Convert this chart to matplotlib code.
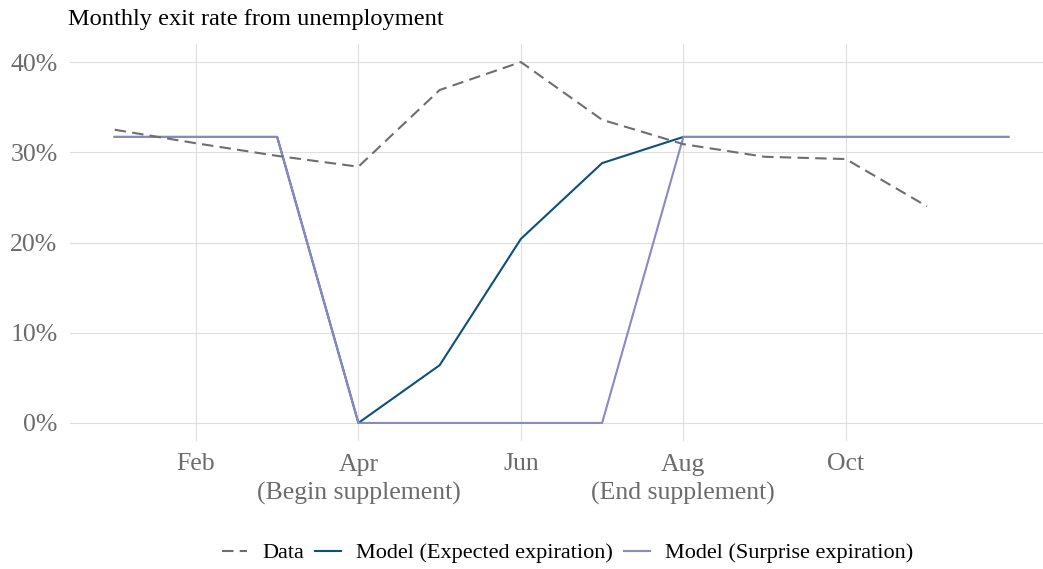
import numpy as np
import matplotlib
matplotlib.use("Agg")
import matplotlib.pyplot as plt

# Monthly series (percent), Jan..Dec
months = np.arange(1, 13)
data_rate = [32.5, 31.0, 29.6, 28.4, 36.9, 40.0, 33.6, 30.9, 29.5, 29.25, 24.0]
expected_rate = [31.7, 31.7, 31.7, 0.0, 6.4, 20.4, 28.8, 31.7, 31.7, 31.7, 31.7, 31.7]
surprise_rate = [31.7, 31.7, 31.7, 0.0, 0.0, 0.0, 0.0, 31.7, 31.7, 31.7, 31.7, 31.7]

tick_months = [2, 4, 6, 8, 10]
tick_labels = ["Feb", "Apr\n(Begin supplement)", "Jun", "Aug\n(End supplement)", "Oct"]
y_ticks = [0, 10, 20, 30, 40]

plt.rcParams['font.family'] = ['Liberation Serif', 'DejaVu Serif']

fig = plt.figure(figsize=(10.43, 5.69), dpi=100)
ax = fig.add_axes([70 / 1043, (569 - 441) / 569, 983 / 1043, 397 / 569])

# Data (dashed), then the two model paths
line_data, = ax.plot(months[:len(data_rate)], data_rate, color='#6e6e6e', linewidth=1.5,
                     label="Data", zorder=3)
line_data.set_dashes((5.5, 3))
ax.plot(months, expected_rate, color='#0d4f7d', linewidth=1.5,
        label="Model (Expected expiration)", zorder=2)
ax.plot(months, surprise_rate, color='#8b88c8', linewidth=1.5,
        label="Model (Surprise expiration)", zorder=2.5)

ax.set_xlim(0.45, 12.55)
ax.set_ylim(-2, 42)
ax.set_xticks(tick_months)
ax.set_xticklabels(tick_labels, fontsize=18.5, color='#6b6b6b', linespacing=1.38)
ax.set_yticks(y_ticks)
ax.set_yticklabels([f"{v}%" for v in y_ticks], fontsize=18.5, color='#6b6b6b')
ax.tick_params(axis='both', length=0)
ax.tick_params(axis='y', pad=9)
ax.tick_params(axis='x', pad=9)

ax.grid(True, color='#dedede', linewidth=0.8)
ax.set_axisbelow(True)
for s in ax.spines.values():
    s.set_visible(False)

fig.text(68 / 1043, (569 - 20) / 569, "Monthly exit rate from unemployment",
         fontsize=17.6, color='black', va='center', ha='left')

fig.legend(loc='center', bbox_to_anchor=(0.544, 0.028), ncol=3, frameon=False,
           fontsize=16, handlelength=1.15, handletextpad=0.68, columnspacing=0.5)

fig.savefig("out.png", dpi=100)
